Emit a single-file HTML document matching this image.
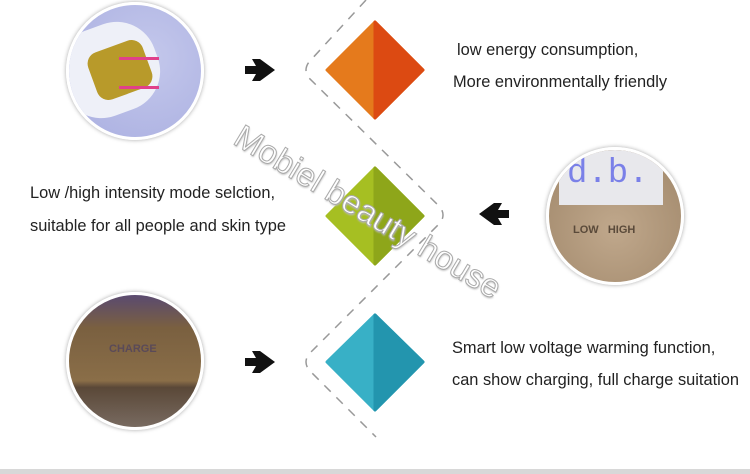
<!DOCTYPE html>
<html><head><style>
body{margin:0;width:750px;height:474px;background:#fff;position:relative;overflow:hidden;font-family:"Liberation Sans","DejaVu Sans",sans-serif}
.t{position:absolute;font-size:16.4px;color:#222;white-space:nowrap}
.c{position:absolute;border-radius:50%;box-shadow:0 0 4px rgba(0,0,0,.35);border:3px solid #fff;overflow:hidden}
</style></head><body>
<svg width="750" height="474" style="position:absolute;left:0;top:0">
<path d="M366,0 L309,62 Q303,70 309,78 L440,207 Q446,215 440,223 L309,354 Q303,362 309,370 L376,437" fill="none" stroke="#999" stroke-width="1.5" stroke-dasharray="9,8"/>
<g>
<polygon points="375,22 423,70 375,118 327,70" fill="#e57a1c" stroke="#e57a1c" stroke-width="3" stroke-linejoin="round"/>
<polygon points="375,22 423,70 375,118" fill="#dc4a12" stroke="#dc4a12" stroke-width="3" stroke-linejoin="round"/>
<polygon points="375,168 423,216 375,264 327,216" fill="#a6bf22" stroke="#a6bf22" stroke-width="3" stroke-linejoin="round"/>
<polygon points="375,168 423,216 375,264" fill="#8ea61a" stroke="#8ea61a" stroke-width="3" stroke-linejoin="round"/>
<polygon points="375,315 423,362 375,410 327,362" fill="#38b0c6" stroke="#38b0c6" stroke-width="3" stroke-linejoin="round"/>
<polygon points="375,315 423,362 375,410" fill="#2395ae" stroke="#2395ae" stroke-width="3" stroke-linejoin="round"/>
</g>
<g fill="#111">
<path d="M245,66 L256,66 L252,59 L260,59 L275,70 L260,81 L252,81 L256,74 L245,74 Z"/>
<path d="M245,358 L256,358 L252,351 L260,351 L275,362 L260,373 L252,373 L256,366 L245,366 Z"/>
<path d="M509,210 L498,210 L502,203 L494,203 L479,214 L494,225 L502,225 L498,218 L509,218 Z"/>
</g>
</svg>
<div class="c" style="left:66px;top:2px;width:132px;height:132px;background:radial-gradient(circle at 60% 40%,#c4c8ec,#a9aee0)">
<div style="position:absolute;left:-10px;top:20px;width:100px;height:90px;background:#eef0f8;border-radius:40px;transform:rotate(-20deg)"></div>
<div style="position:absolute;left:22px;top:40px;width:58px;height:50px;background:#b89a2a;border-radius:12px;transform:rotate(-20deg)"></div>
<div style="position:absolute;left:50px;top:52px;width:40px;height:26px;border-top:3px solid #e0408a;border-bottom:3px solid #e0408a"></div>
</div>
<div class="c" style="left:66px;top:292px;width:132px;height:132px;background:linear-gradient(#5a4a70 0%,#7a6040 25%,#8a6e48 65%,#5a4838 70%,#786a60 100%)">
<div style="position:absolute;left:40px;top:48px;font-size:11px;font-weight:bold;color:#5a4a58">CHARGE</div>
</div>
<div class="c" style="left:546px;top:147px;width:132px;height:132px;background:radial-gradient(circle at 50% 60%,#c0a88c,#9e8568)">
<div style="position:absolute;left:10px;top:0;width:104px;height:55px;background:#e8e8ec"></div>
<div style="position:absolute;left:18px;top:4px;font-size:34px;color:#7a80e8;font-family:'Liberation Mono',monospace;line-height:40px">d.b.</div>
<div style="position:absolute;left:24px;top:74px;font-size:11px;font-weight:bold;color:#5a4a3a">LOW &nbsp;&nbsp;HIGH</div>
</div>
<div class="t" style="left:457px;top:41px">low energy consumption,</div>
<div class="t" style="left:453px;top:73px">More environmentally friendly</div>
<div class="t" style="left:30px;top:184px">Low /high intensity mode selction,</div>
<div class="t" style="left:30px;top:217px">suitable for all people and skin type</div>
<div class="t" style="left:452px;top:339px">Smart low voltage warming function,</div>
<div class="t" style="left:452px;top:371px">can show charging, full charge suitation</div>
<div style="position:absolute;left:213px;top:193px;width:310px;text-align:center;font-size:33px;color:#fff;-webkit-text-stroke:1px #aaa;text-shadow:1px 1px 2px #bbb;transform:rotate(31deg);white-space:nowrap">Mobiel beauty house</div>
<div style="position:absolute;left:0;top:469px;width:750px;height:5px;background:#d8d8d8"></div>
</body></html>
